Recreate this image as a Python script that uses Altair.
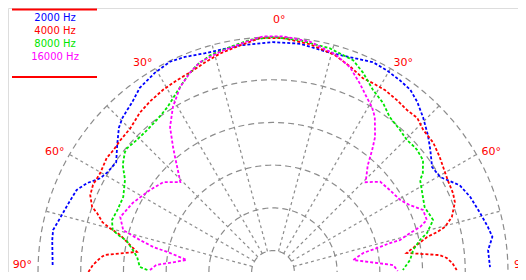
import altair as alt
import pandas as pd
import numpy as np

# ---- data (angle in degrees from front axis, level in dB) ----
series_names = ["2000 Hz", "4000 Hz", "8000 Hz", "16000 Hz"]
series_colors = ["#0000ff", "#ff0000", "#00e600", "#ff00ff"]

blue_ang = [-88.2, -81.8, -79.2, -75.8, -72.0, -67.3, -64.4, -61.5, -58.8, -55.0, -50.9, -46.9, -44.4, -42.0,
            -39.7, -35.9, -30.7, -26.1, -22.3, -17.2, -8.3, 0.0, 6.8, 14.6, 19.7, 25.5, 29.4, 33.5, 37.0, 40.3,
            44.2, 48.5, 52.2, 56.6, 60.4, 62.3, 65.1, 69.2, 74.1, 78.2, 80.9, 84.2, 88.7]
blue_db = [-1.7, -1.4, -1.3, -1.8, -2.2, -2.6, -3.4, -4.5, -4.9, -5.1, -4, -2.8, -2.3, -2, -1.7, -0.9, -0.4,
           -0.1, -0.3, -0.7, -0.7, -0.6, -0.6, -1, -0.8, -0.3, -0.4, -0.6, -0.8, -1.4, -2.3, -3.3, -4.2, -5.2,
           -5, -4.4, -3.4, -2.8, -2.3, -1.8, -1.5, -2.2, -2.1]

red_ang = [-90, -87.8, -85.4, -84.2, -81.6, -78.7, -76.4, -74.9, -73.7, -71.5, -70.2, -67.2, -64.2, -60.2,
           -55.5, -52.7, -49.2, -44.8, -39.9, -35.9, -31.1, -26.6, -22.5, -17.9, -13.7, -8.3, -3.2, 2.4, 9.2,
           15.9, 20.5, 24.9, 27.9, 31.6, 35.8, 39.6, 43.1, 46.6, 51.1, 55.4, 58.3, 62.3, 66.3, 69, 72.9, 75.3,
           76.3, 77.2, 79.4, 81.9, 84.2, 85.4, 87.1, 89.4]
red_db = [-5.9, -6.4, -7.2, -7.7, -11.4, -10.2, -9.1, -7.7, -6.7, -5.8, -5, -4.3, -4.1, -4.2, -3.9, -4, -3.9,
          -3.8, -3.2, -2.9, -2.6, -2.4, -2.2, -1.7, -1.2, -0.7, -0.1, -0.1, -0.5, -1.1, -1.8, -2.5, -2.5, -2.5,
          -2.7, -2.9, -2.8, -3.3, -3.4, -3.8, -4.1, -4.4, -4.5, -4.7, -5.6, -6.7, -7.7, -9, -10.4, -11.7, -7.9,
          -7.1, -6.5, -6]

green_ang = [-89.1, -87.8, -83.7, -81.1, -78, -76.6, -75.3, -72.1, -68.3, -63.4, -58.1, -54.5, -51, -49.7,
             -45.9, -41.6, -37.3, -32.7, -27.6, -23.3, -20.2, -16.2, -10.8, -5.7, 0, 6.6, 14.3, 20.7, 24.3,
             28.8, 33.1, 37, 41.8, 45.4, 48.6, 49.7, 53.3, 56.6, 58, 66.8, 72, 75.8, 77.7, 81.1, 85, 89.1]
green_db = [-12.8, -11.9, -11.5, -10.9, -10, -8.9, -8.1, -7.7, -7.9, -7.9, -7.1, -5.9, -5.2, -5.1, -5.3, -5.3,
            -5.1, -4.6, -3.5, -2.4, -1.7, -1.1, -0.7, -0.2, 0, -0.2, -0.5, -1, -1.9, -3.2, -3.9, -4.8, -5.2,
            -5.5, -5.4, -5.4, -5.6, -6.5, -7.2, -8.2, -7.8, -8.9, -9.9, -10.9, -11.4, -12.3]

mag_ang = [-89.1, -86.6, -82.1, -79.5, -78.2, -76.5, -74.4, -70.2, -63.8, -56.3, -50.7, -45.9, -43.5, -40.4,
           -38.7, -35.4, -31.2, -26.7, -22.5, -19.2, -13.5, -6.9, -2.4, 2.4, 9.1, 15.9, 20.6, 24.7, 28.2, 31.0,
           33.3, 37.1, 39.1, 41.6, 45.9, 49.9, 55.0, 60.4, 63.9, 67.5, 71.3, 73.0, 74.1, 75.9, 76.1, 76.8, 78.1,
           81.5, 86.7, 89.5]
mag_db = [-13.1, -13.8, -17.3, -15.2, -13.2, -11.5, -9.3, -8.5, -9.2, -10.2, -10.9, -12.4, -11.4, -9.8, -8.8,
          -6.7, -4.9, -3.3, -2.2, -1.5, -1.0, -0.4, 0.1, 0.1, -0.2, -1.0, -1.9, -3.2, -4.3, -5.0, -5.8, -7.7,
          -9.1, -10.8, -12.4, -11.1, -10.8, -10.4, -9.7, -8.5, -8.5, -9.5, -10.8, -12.2, -13.4, -14.6, -16.7,
          -18.0, -13.4, -12.9]

ring_db = [0, -5, -10, -15, -20, -25]
spoke_ang = [-75, -60, -45, -30, -15, 15, 30, 45, 60, 75]
label_ang = [-90, -60, -30, 0, 30, 60, 90]
label_txt = ["90°", "60°", "30°", "0°", "30°", "60°", "90°"]

DB_MIN = -27.5

# ---- tables ----
rows = []
for name, angs, dbs in zip(series_names, [blue_ang, red_ang, green_ang, mag_ang],
                           [blue_db, red_db, green_db, mag_db]):
    for i, (a, d) in enumerate(zip(angs, dbs)):
        rows.append({"series": name, "ang": a, "db": d, "i": i})
curves = pd.DataFrame(rows)

grid_rows = []
for k, d in enumerate(ring_db):
    for a in range(-90, 91, 2):
        grid_rows.append({"g": "ring%d" % k, "ang": a, "db": d, "i": a})
for k, a in enumerate(spoke_ang):
    for d in (ring_db[-1], ring_db[0]):
        grid_rows.append({"g": "spoke%d" % k, "ang": a, "db": d, "i": d})
grid = pd.DataFrame(grid_rows)

labels = pd.DataFrame({"ang": label_ang, "txt": label_txt})

xs = alt.Scale(domain=[-265 / 235, 245 / 235], nice=False, zero=False)
ys = alt.Scale(domain=[0, 264 / 235], nice=False, zero=False)

def polar(ch, rad="(datum.db - (%g)) / (%g)" % (DB_MIN, -DB_MIN)):
    return ch.transform_calculate(
        r=rad,
        x="datum.r * sin(datum.ang * PI / 180)",
        y="datum.r * cos(datum.ang * PI / 180)",
    )

X = alt.X("x:Q", scale=xs, axis=None)
Y = alt.Y("y:Q", scale=ys, axis=None)

ring_layer = polar(alt.Chart(grid).transform_filter("indexof(datum.g, 'ring') == 0")).mark_line(
    color="#8c8c8c", strokeWidth=1.2, strokeDash=[6, 4]
).encode(x=X, y=Y, detail="g:N", order="i:Q")

spoke_layer = polar(alt.Chart(grid).transform_filter("indexof(datum.g, 'spoke') == 0")).mark_line(
    color="#8c8c8c", strokeWidth=1.2, strokeDash=[3, 3]
).encode(x=X, y=Y, detail="g:N", order="i:Q")

color = alt.Color("series:N", scale=alt.Scale(domain=series_names, range=series_colors), legend=None)

curve_layer = polar(alt.Chart(curves)).mark_line(strokeWidth=1.8, strokeDash=[3, 2]).encode(
    x=X, y=Y, color=color, detail="series:N", order="i:Q"
)

def label_layer(cond, align, dy):
    return alt.Chart(labels).transform_filter(cond).transform_calculate(
        x="1.025 * sin(datum.ang * PI / 180)",
        y="1.025 * cos(datum.ang * PI / 180) + (abs(datum.ang) >= 90 ? 0.028 : 0)",
    ).mark_text(color="#ff0000", fontSize=11, font="DejaVu Sans", align=align, baseline="middle", dy=dy).encode(
        x=X, y=Y, text="txt:N"
    )

lab_left = label_layer("datum.ang < 0", "right", 0)
lab_right = label_layer("datum.ang > 0", "left", 0)
lab_top = label_layer("datum.ang == 0", "left", -11)

legend_df = pd.DataFrame({"series": series_names, "k": [0, 1, 2, 3]})
legend_text = alt.Chart(legend_df).transform_calculate(py="10 + datum.k * 13").mark_text(
    fontSize=10, font="DejaVu Sans", align="center", baseline="middle"
).encode(
    x=alt.value(47), y=alt.Y("py:Q", scale=None), text="series:N", color=color
)
one = pd.DataFrame({"k": [0]})
legend_top = alt.Chart(one).mark_rule(color="#ff0000", strokeWidth=2).encode(
    x=alt.value(4), x2=alt.value(89), y=alt.value(1.5)
)
legend_bot = alt.Chart(one).mark_rule(color="#ff0000", strokeWidth=2).encode(
    x=alt.value(4), x2=alt.value(89), y=alt.value(69)
)

chart = alt.layer(
    ring_layer, spoke_layer, curve_layer, lab_left, lab_right, lab_top, legend_text, legend_top, legend_bot
).properties(
    width=510, height=264, autosize="none", padding=0
).configure_view(stroke=None).configure(background="white")

chart.save("out.html", embed_options={"renderer": "svg", "actions": False})
